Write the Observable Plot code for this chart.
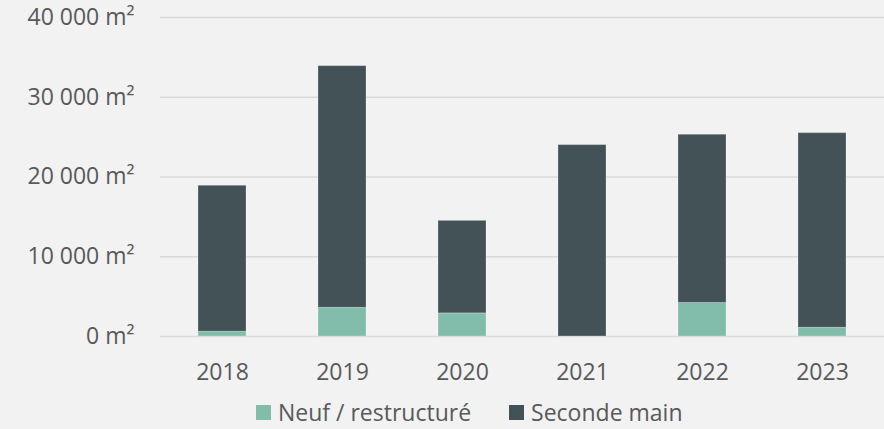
<!DOCTYPE html>
<html>
<head>
<meta charset="utf-8">
<script src="https://cdn.jsdelivr.net/npm/d3@7"></script>
<script src="https://cdn.jsdelivr.net/npm/@observablehq/plot@0.6"></script>
<style>
  html, body { margin: 0; padding: 0; background: #f2f2f2; }
  #wrap { position: relative; width: 884px; height: 429px; overflow: hidden; font-family: "Open Sans", sans-serif; }
  #legend { position: absolute; top: 401px; left: 256px; height: 23px; line-height: 23px; display: flex; align-items: center; font-size: 23px; color: #595959; white-space: nowrap; }
  .sw { width: 15px; height: 15px; display: inline-block; margin-right: 7px; }
  .item { display: flex; align-items: center; line-height: 23px; }
</style>
</head>
<body>
<div id="wrap"><div id="chart"></div><div id="legend"></div></div>
<script>
const years = ["2018", "2019", "2020", "2021", "2022", "2023"];
const series = ["Neuf / restructuré", "Seconde main"];
const neuf = [600, 3600, 2900, 0, 4200, 1100];
const seconde = [18300, 30300, 11600, 24000, 21100, 24400];
const colors = ["#82bdac", "#435256"];
const yTicks = [0, 10000, 20000, 30000, 40000];

const data = [];
years.forEach((y, i) => {
  data.push({year: y, series: series[0], value: neuf[i]});
  data.push({year: y, series: series[1], value: seconde[i]});
});

const fmt = d => d3.format(",")(d).replace(/,/g, " ") + " m²";

const chart = Plot.plot({
  width: 884,
  height: 392,
  marginTop: 17,
  marginBottom: 56,
  marginLeft: 160,
  marginRight: 0,
  style: { background: "#f2f2f2", fontFamily: "Open Sans, sans-serif", fontSize: "23px", color: "#595959" },
  x: { domain: years, paddingInner: 0.6, paddingOuter: 0.3, label: null, tickSize: 0, tickPadding: 27 },
  y: { domain: [0, 40000], ticks: yTicks, tickFormat: fmt, label: null, tickSize: 0, tickPadding: 26 },
  color: { domain: series, range: colors },
  marks: [
    Plot.gridY(yTicks, { stroke: "#d9d9d9", strokeOpacity: 1, strokeWidth: 1.5 }),
    Plot.barY(data, Plot.stackY({ x: "year", y: "value", fill: "series", order: series, stroke: "#ffffff", strokeOpacity: 0.25, strokeWidth: 1 })),
    Plot.axisX({ tickSize: 0, tickPadding: 27, fill: "#595959" }),
    Plot.axisY({ ticks: yTicks, tickFormat: fmt, tickSize: 0, tickPadding: 26, fill: "#595959" })
  ]
});
document.getElementById("chart").appendChild(chart);

const legend = document.getElementById("legend");
series.forEach((s, i) => {
  const it = document.createElement("div");
  it.className = "item";
  if (i > 0) it.style.marginLeft = "38px";
  const sw = document.createElement("span");
  sw.className = "sw";
  sw.style.background = colors[i];
  it.appendChild(sw);
  const t = document.createElement("span");
  t.textContent = s;
  it.appendChild(t);
  legend.appendChild(it);
});
</script>
</body>
</html>
